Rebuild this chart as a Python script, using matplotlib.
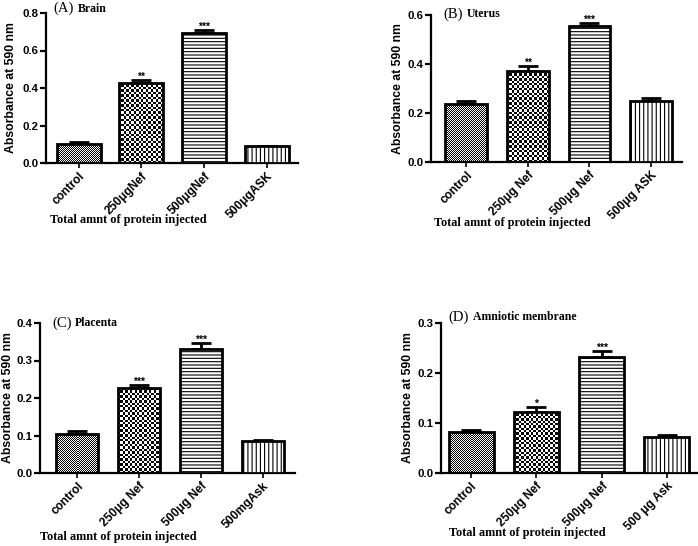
import numpy as np
import matplotlib
matplotlib.use("Agg")
import matplotlib.pyplot as plt

plt.rcParams['hatch.linewidth'] = 0.8
plt.rcParams['font.family'] = ['Liberation Sans', 'DejaVu Sans']

# ---- data ----
labels_A = ["control", "250μgNef", "500μgNef", "500μgASK"]
values_A = [0.101, 0.427, 0.695, 0.089]
errors_A = [0.009, 0.016, 0.014, 0.004]
stars_A = ["", "**", "***", ""]

labels_B = ["control", "250μg Nef", "500μg Nef", "500μg ASK"]
values_B = [0.236, 0.370, 0.555, 0.249]
errors_B = [0.013, 0.020, 0.011, 0.011]
stars_B = ["", "**", "***", ""]

labels_C = ["control", "250μg Nef", "500μg Nef", "500mgAsk"]
values_C = [0.104, 0.226, 0.331, 0.085]
errors_C = [0.008, 0.008, 0.016, 0.003]
stars_C = ["", "***", "***", ""]

labels_D = ["control", "250μg Nef", "500μg Nef", "500 μg Ask"]
values_D = [0.083, 0.123, 0.233, 0.073]
errors_D = [0.003, 0.009, 0.011, 0.004]
stars_D = ["", "*", "***", ""]

titles = [("(A)", "Brain"), ("(B)", "Uterus"), ("(C)", "Placenta"), ("(D)", "Amniotic membrane")]
yticks_list = [[0.0, 0.2, 0.4, 0.6, 0.8], [0.0, 0.2, 0.4, 0.6],
               [0.0, 0.1, 0.2, 0.3, 0.4], [0.0, 0.1, 0.2, 0.3]]
xlabel = "Total amnt of protein injected"
ylabel = "Absorbance at 590 nm"

W, H = 698, 546
fig = plt.figure(figsize=(W / 100, H / 100), dpi=100)

# axes boxes in pixels: left, right, top, bottom
boxes = [(46, 298, 13, 163), (431, 682, 15, 162), (40, 295, 323, 473), (441, 697, 323, 473)]
xlims = [(-0.52, 3.5), (-0.57, 3.5), (-0.6, 3.52), (-0.46, 3.46)]
widths = [0.70, 0.68, 0.68, 0.69]
ylab_off = [29, 27, 26, 27]
title_pos = [(0.03, 1.03), (0.05, 1.005), (0.047, 1.0), (0.03, 1.04)]
xlabel_pos = [(50, 220), (434, 223), (40, 537), (449, 533)]

data = [(labels_A, values_A, errors_A, stars_A),
        (labels_B, values_B, errors_B, stars_B),
        (labels_C, values_C, errors_C, stars_C),
        (labels_D, values_D, errors_D, stars_D)]

styles = ["fine", "check", "hlines", "vlines"]
cell_px = {"fine": 1.0, "check": 2.4}

for k, (labels, vals, errs, stars) in enumerate(data):
    l, r, t, b = boxes[k]
    ax = fig.add_axes([l / W, 1 - b / H, (r - l) / W, (b - t) / H])
    x = np.arange(len(vals))
    yt = yticks_list[k]
    ax.set_xlim(*xlims[k])
    ax.set_ylim(0, yt[-1])
    bars = ax.bar(x, vals, width=widths[k], facecolor="white", edgecolor="black",
                  linewidth=2.0, zorder=3)
    for bar, st in zip(bars, styles):
        if st == "hlines":
            bar.set_hatch("-----")
        elif st == "vlines":
            bar.set_hatch("||||")
    ax.errorbar(x, vals, yerr=[np.zeros(len(vals)), errs], fmt="none", ecolor="black",
                elinewidth=2.0, capsize=7.5, capthick=2.0, zorder=2)
    # checkerboard fills
    for bar, st in zip(bars, styles):
        if st in cell_px:
            x0, x1 = bar.get_x(), bar.get_x() + bar.get_width()
            y0, y1 = 0, bar.get_height()
            p0 = ax.transData.transform((x0, y0))
            p1 = ax.transData.transform((x1, y1))
            nx = max(1, int(round(abs(p1[0] - p0[0]) / cell_px[st])))
            ny = max(1, int(round(abs(p1[1] - p0[1]) / cell_px[st])))
            ii, jj = np.indices((ny, nx))
            arr = ((ii + jj) % 2).astype(float)
            bar.set_facecolor("none")
            im = ax.imshow(arr, cmap="gray", vmin=0, vmax=1, extent=(x0, x1, y0, y1),
                           aspect="auto", interpolation="nearest", zorder=2.5)
            im.set_clip_path(bar)
    ax.set_xlim(*xlims[k])
    ax.set_ylim(0, yt[-1])
    ax.set_aspect("auto")
    # stars
    for xi, v, e, s in zip(x, vals, errs, stars):
        if s:
            ax.annotate(s, xy=(xi, v + e), xytext=(0, 2.5), textcoords="offset points",
                        ha="center", va="center", fontsize=7.5, fontweight="bold", zorder=5)
    ax.spines["top"].set_visible(False)
    ax.spines["right"].set_visible(False)
    ax.spines["left"].set_linewidth(1.6)
    ax.spines["bottom"].set_linewidth(1.6)
    ax.set_yticks(yt)
    ax.set_yticklabels([f"{v:.1f}" for v in yt], fontsize=8.2, fontweight="bold")
    ax.set_xticks(x)
    ax.set_xticklabels(labels, rotation=45, ha="right", va="top", rotation_mode="anchor",
                       fontsize=8.6, fontweight="bold")
    ax.tick_params(axis="y", length=4.5, width=1.6, pad=1)
    ax.tick_params(axis="x", length=3.5, width=1.2, pad=1.5)
    ax.set_ylabel(ylabel, fontsize=8.8, fontweight="bold")
    ax.yaxis.set_label_coords(-ylab_off[k] / (r - l), 0.5)
    # title
    tx, ty = title_pos[k]
    t1 = ax.text(tx, ty, titles[k][0], transform=ax.transAxes, fontsize=10.5,
                 family="Liberation Serif", ha="left", va="center")
    ax.annotate(titles[k][1], xy=(1, 0.5), xycoords=t1, xytext=(2.5, 0),
                textcoords="offset points", ha="left", va="center", fontsize=8.5,
                fontweight="bold", family="Liberation Serif")
    # x label
    xp, yp = xlabel_pos[k]
    fig.text(xp / W, 1 - yp / H, xlabel, ha="left", va="center", fontsize=8.8,
             fontweight="bold", family="Liberation Serif")

fig.savefig("out.png", dpi=100)
